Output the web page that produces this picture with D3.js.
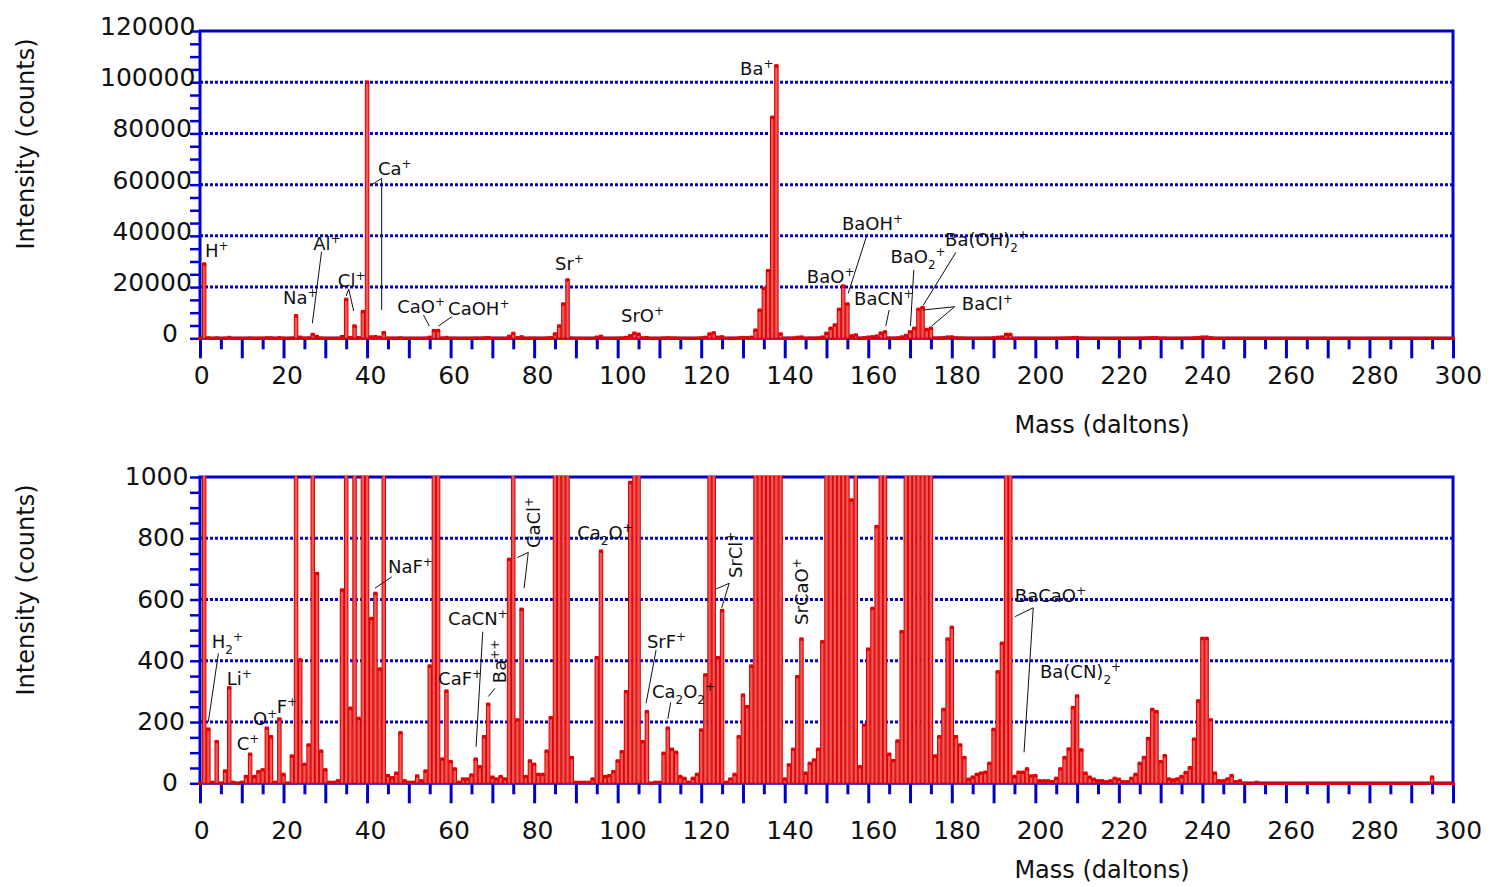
<!DOCTYPE html>
<html>
<head>
<meta charset="utf-8">
<script src="https://cdn.jsdelivr.net/npm/d3@7"></script>
<style>
  body { margin: 0; background: #fff; }
  svg text { font-family: "DejaVu Sans", Verdana, sans-serif; fill: #111; }
</style>
</head>
<body>
<script>
// Masa (daltons) 0..300, un valor por unidad
var masses = d3.range(0, 301)

var intensity = [
  0, 29000, 177, 3, 136, 0, 40, 312, 3, 0,
  3, 22, 95, 22, 38, 44, 180, 152, 3, 210,
  29, 0, 89, 8800, 403, 62, 125, 1500, 685, 105,
  44, 3, 3, 8, 631, 15200, 245, 4800, 212, 10400,
  100000, 538, 620, 373, 2200, 25, 18, 33, 165, 8,
  3, 3, 24, 8, 40, 383, 3000, 3000, 79, 301,
  71, 47, 3, 14, 14, 27, 79, 54, 152, 258,
  20, 14, 22, 14, 731, 1900, 207, 568, 22, 73,
  62, 29, 29, 105, 214, 1700, 4800, 13400, 22800, 84,
  3, 3, 3, 3, 14, 410, 758, 22, 25, 38,
  73, 103, 299, 982, 2000, 1600, 136, 234, 0, 3,
  3, 98, 180, 111, 101, 22, 16, 3, 16, 29,
  174, 354, 1700, 2100, 410, 564, 3, 14, 29, 152,
  288, 250, 383, 3200, 11000, 19500, 26400, 86300, 106400, 1700,
  14, 60, 111, 348, 471, 33, 65, 76, 111, 462,
  1950, 3900, 5200, 11300, 20400, 13400, 925, 1300, 54, 190,
  438, 571, 838, 2000, 2500, 95, 74, 138, 495, 1100,
  2500, 3900, 11300, 12000, 3400, 3900, 89, 152, 241, 471,
  509, 152, 125, 84, 13, 20, 29, 33, 36, 65,
  176, 364, 457, 1500, 1500, 22, 36, 36, 47, 24,
  25, 8, 8, 8, 5, 16, 47, 84, 112, 247,
  285, 109, 33, 20, 13, 8, 8, 5, 8, 16,
  13, 5, 5, 16, 29, 65, 84, 146, 241, 234,
  71, 90, 14, 11, 14, 22, 35, 51, 144, 269,
  473, 473, 207, 33, 8, 8, 14, 25, 5, 8,
  0, 0, 0, 3, 0, 0, 0, 0, 0, 0,
  0, 0, 0, 0, 0, 0, 0, 0, 0, 0,
  0, 0, 0, 0, 0, 0, 0, 0, 0, 0,
  0, 0, 0, 0, 0, 0, 0, 0, 0, 0,
  0, 0, 0, 0, 0, 20, 0, 0, 0, 0,
  0
]

// Ticks
var xTickLabels = [0, 20, 40, 60, 80, 100, 120, 140, 160, 180, 200, 220, 240, 260, 280, 300]
var yTopTicks = [0, 20000, 40000, 60000, 80000, 100000, 120000]
var yBottomTicks = [0, 200, 400, 600, 800, 1000]

// Etiquetas de iones: texto, masa, intensidad (^ = superindice, _ = subindice)
var topLabels = [
  ["H^+", 1.2, 31760], ["Na^+", 19.9, 13400], ["Al^+", 27.1, 34490], ["Cl^+", 33.0, 20040],
  ["Ca^+", 42.6, 63790], ["CaO^+", 47.2, 9880], ["CaOH^+", 59.4, 9100], ["Sr^+", 85.0, 26680],
  ["SrO^+", 100.8, 6370], ["Ba^+", 129.3, 102850], ["BaOH^+", 153.7, 42300], ["BaO^+", 145.3, 21600],
  ["BaCN^+", 156.6, 13000], ["BaO_2^+", 165.3, 29400], ["Ba(OH)_2^+", 178.4, 36050], ["BaCl^+", 182.4, 11050]
]
var topLeaders = [
  [[29.1, 33830], [26.9, 5860]],
  [[35.6, 19260], [36.8, 10660]],
  [[35.6, 19260], [35.0, 16500]],
  [[43.5, 62500], [40.7, 59490]],
  [[43.5, 62500], [43.5, 11050]],
  [[53.5, 9100], [54.9, 4800]],
  [[60.3, 8440], [57.1, 4800]],
  [[159.6, 39960], [155.2, 17580]],
  [[165.0, 11050], [164.2, 4800]],
  [[170.9, 26680], [170.1, 4800]],
  [[181.0, 33590], [173.2, 13010]],
  [[180.7, 12340], [173.2, 11050]],
  [[180.7, 12340], [175.2, 4800]]
]
var bottomLabels = [
  ["H_2^+", 2.8, 442], ["Li^+", 6.4, 321], ["C^+", 8.8, 109], ["O^+", 12.7, 190], ["F^+", 18.4, 230],
  ["NaF^+", 45.0, 687], ["CaCN^+", 59.4, 517], ["CaF^+", 57.0, 321], ["Ca_2O^+", 90.3, 798],
  ["SrF^+", 107.0, 442], ["Ca_2O_2^+", 108.2, 278], ["BaCaO^+", 195.1, 592], ["Ba(CN)_2^+", 201.1, 344]
]
var bottomRotated = [
  ["Ba^+^+", 73.3, 327], ["CaCl^+", 81.4, 768], ["SrCl^+", 129.8, 670], ["SrCaO^+", 145.6, 517]
]
var bottomLeaders = [
  [[4.4, 424], [2.0, 201]],
  [[45.9, 674], [41.9, 637]],
  [[67.7, 495], [66.1, 119]],
  [[70.6, 310], [69.0, 283]],
  [[78.6, 754], [76.0, 737]],
  [[78.6, 754], [77.6, 637]],
  [[109.2, 435], [106.8, 261]],
  [[112.7, 264], [112.0, 210]],
  [[126.7, 653], [123.5, 634]],
  [[126.7, 653], [124.9, 573]],
  [[199.5, 573], [195.1, 544]],
  [[199.5, 573], [197.3, 101]]
]

var width = 1490
var height = 887
var azul = "#0000cc"
var rojo = "#e00000"

var svg = d3.select("body").append("svg")
  .attr("width", width)
  .attr("height", height)

// Escala X comun
var escalaX = d3.scaleLinear().domain([0, 300]).range([200, 1453])

// Escribe una etiqueta con super/subindices
function etiqueta(g, texto, x, y, rotar) {
  var t = g.append("text").attr("font-size", 18)
  if (rotar) t.attr("transform", "translate(" + x + "," + y + ") rotate(-90)")
  else t.attr("x", x).attr("y", y)
  var partes = []
  for (var i = 0; i < texto.length; i++) {
    var c = texto[i], tipo = ""
    if (c === "^" || c === "_") { tipo = c; c = texto[++i] }
    var ult = partes[partes.length - 1]
    if (ult && ult.tipo === tipo) ult.s += c
    else partes.push({ s: c, tipo: tipo })
  }
  var nivel = 0
  partes.forEach(function (p) {
    var objetivo = p.tipo === "^" ? -7 : p.tipo === "_" ? 6 : 0
    var ts = t.append("tspan").text(p.s).attr("dy", objetivo - nivel)
    if (p.tipo) ts.attr("font-size", 12)
    nivel = objetivo
  })
}

function panel(cfg) {
  var g = svg.append("g")
  var escalaY = d3.scaleLinear().domain([0, cfg.max]).range([cfg.y0, cfg.y1])

  // Rejilla punteada
  g.selectAll(".grid")
    .data(cfg.ticks.slice(1, -1))
    .enter().append("line")
    .attr("x1", escalaX(0)).attr("x2", escalaX(300))
    .attr("y1", d => escalaY(d)).attr("y2", d => escalaY(d))
    .attr("stroke", azul).attr("stroke-width", 3)
    .attr("stroke-dasharray", "3,2")

  // Eje Y (ticks menores hacia fuera)
  var ejeY = d3.axisLeft(escalaY)
    .tickValues(d3.range(0, cfg.max + 1, cfg.paso))
    .tickSize(10)
    .tickFormat("")
  var gy = g.append("g").attr("transform", "translate(" + escalaX(0) + ",0)").call(ejeY)
  gy.select(".domain").remove()
  gy.selectAll("line").attr("stroke", azul).attr("stroke-width", 2.5)

  // Etiquetas del eje Y
  g.selectAll(".ylab")
    .data(cfg.ticks)
    .enter().append("text")
    .attr("font-size", 25)
    .attr("x", d => escalaX(0) - 25.6 - 12.4 * String(d).length)
    .attr("y", d => escalaY(d) + cfg.dyY)
    .text(d => d)

  // Eje X: mayores cada 10, menores cada 5
  var ejeX = d3.axisBottom(escalaX)
    .tickValues(d3.range(0, 301, 5))
    .tickSize(11)
    .tickFormat("")
  var gx = g.append("g").attr("transform", "translate(0," + cfg.y0 + ")").call(ejeX)
  gx.select(".domain").remove()
  gx.selectAll("line")
    .attr("stroke", azul).attr("stroke-width", 3)
    .attr("y2", d => d % 10 === 0 ? 20 : 11)

  g.selectAll(".xlab")
    .data(xTickLabels)
    .enter().append("text")
    .attr("font-size", 25)
    .attr("x", d => escalaX(d) - 6.2 * String(d).length)
    .attr("y", cfg.y0 + cfg.dyX)
    .text(d => d)

  // Marco
  g.append("path")
    .attr("d", "M" + escalaX(0) + "," + cfg.y0 + "V" + cfg.y1 + "H" + escalaX(300) + "V" + cfg.y0 + "H" + escalaX(0))
    .attr("fill", "none").attr("stroke", azul).attr("stroke-width", 3)

  // Barras recortadas al area
  var id = "clip" + cfg.max
  svg.append("clipPath").attr("id", id)
    .append("rect")
    .attr("x", 190).attr("y", cfg.y1 - 1)
    .attr("width", 1280).attr("height", cfg.y0 - cfg.y1 + 5)
  var gb = g.append("g").attr("clip-path", "url(#" + id + ")")

  gb.selectAll(".bar")
    .data(masses)
    .enter().append("rect")
    .attr("x", d => escalaX(d) - 1.7)
    .attr("width", 3.4)
    .attr("y", d => escalaY(Math.min(intensity[d], cfg.max * 1.01)))
    .attr("height", d => Math.max(0, cfg.y0 - escalaY(Math.min(intensity[d], cfg.max * 1.01))))
    .attr("fill", "#ec5a5a")
    .attr("stroke", rojo).attr("stroke-width", 1.1)

  gb.selectAll(".mark")
    .data(masses)
    .enter().append("rect")
    .attr("x", d => escalaX(d) - 2)
    .attr("y", d => escalaY(intensity[d]) - 1.7)
    .attr("width", 4).attr("height", 3.4)
    .attr("fill", rojo)

  // Titulos de ejes
  g.append("text")
    .attr("font-size", 24)
    .attr("text-anchor", "middle")
    .attr("x", 1102).attr("y", cfg.tituloX)
    .text("Mass (daltons)")
  g.append("text")
    .attr("font-size", 24)
    .attr("text-anchor", "middle")
    .attr("transform", "translate(34," + cfg.tituloY + ") rotate(-90)")
    .text("Intensity (counts)")

  // Lineas guia y etiquetas de iones
  var linea = d3.line().x(d => escalaX(d[0])).y(d => escalaY(d[1]))
  g.selectAll(".guia")
    .data(cfg.guias)
    .enter().append("path")
    .attr("d", linea)
    .attr("stroke", "#111").attr("stroke-width", 1).attr("fill", "none")

  cfg.etiquetas.forEach(function (e) { etiqueta(g, e[0], escalaX(e[1]), escalaY(e[2]), false) })
  cfg.rotadas.forEach(function (e) { etiqueta(g, e[0], escalaX(e[1]), escalaY(e[2]), true) })
}

panel({ max: 120000, y0: 338.3, y1: 31, ticks: yTopTicks, paso: 5000, dyY: 4, dyX: 46, tituloX: 433, tituloY: 144,
        guias: topLeaders, etiquetas: topLabels, rotadas: [] })
panel({ max: 1000, y0: 783.3, y1: 477, ticks: yBottomTicks, paso: 50, dyY: 8, dyX: 56, tituloX: 878, tituloY: 590,
        guias: bottomLeaders, etiquetas: bottomLabels, rotadas: bottomRotated })
</script>
</body>
</html>
